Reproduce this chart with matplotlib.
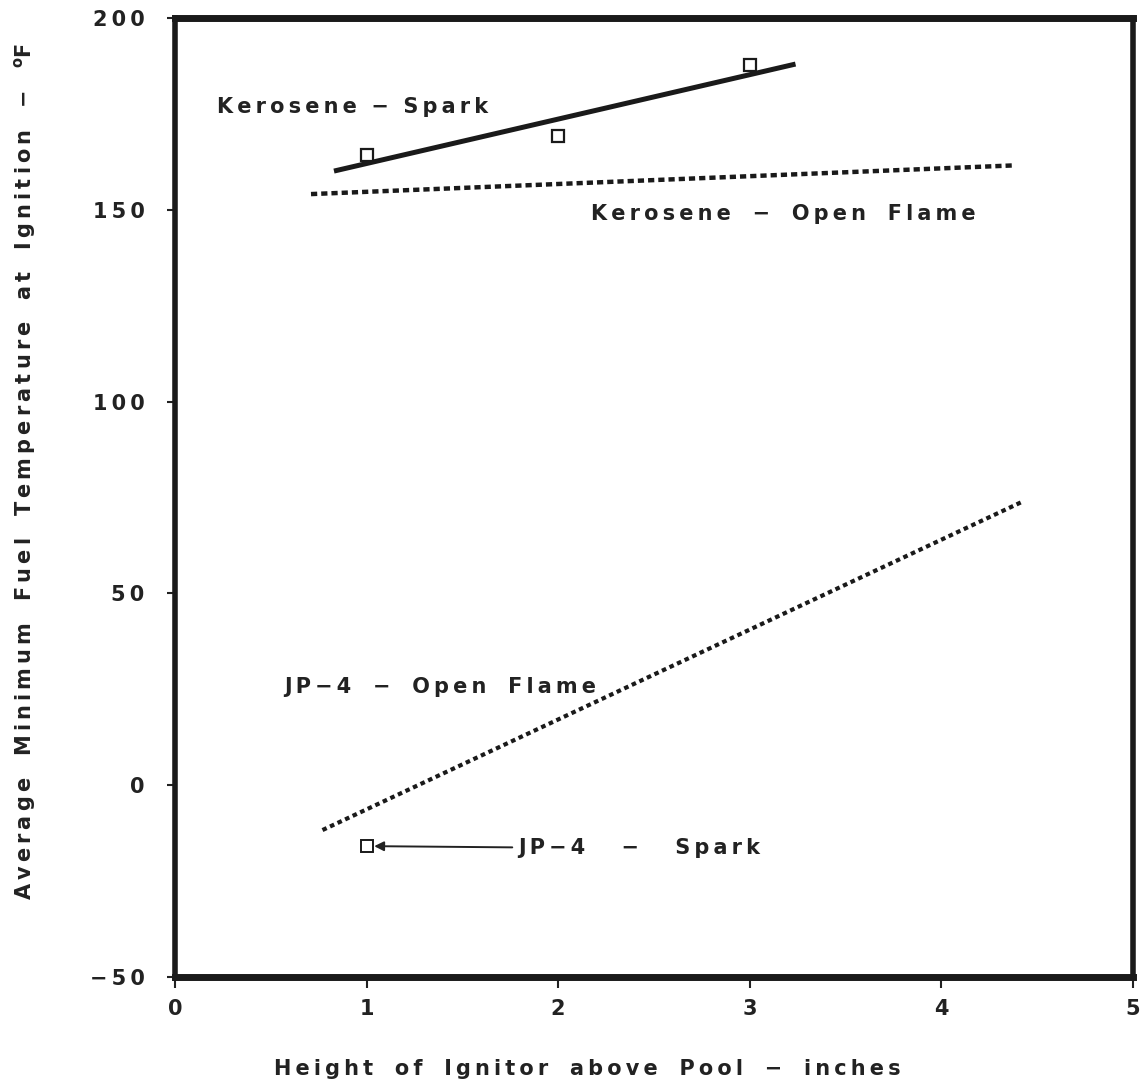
import matplotlib
matplotlib.use("Agg")
import matplotlib.pyplot as plt

# Measured points (spark ignition)
kero_spark_x = [1, 2, 3]
kero_spark_y = [164.2, 169.2, 187.7]
jp4_spark_x = [1]
jp4_spark_y = [-15.9]

# Fitted trend lines (end points)
kero_spark_line_x = [0.83, 3.24]
kero_spark_line_y = [160.1, 188.0]
kero_flame_line_x = [0.71, 4.39]
kero_flame_line_y = [154.1, 161.6]
jp4_flame_line_x = [0.77, 4.42]
jp4_flame_line_y = [-11.7, 73.8]

x_ticks = [0, 1, 2, 3, 4, 5]
y_ticks = [-50, 0, 50, 100, 150, 200]

plt.rcParams['font.family'] = ['DejaVu Sans']
plt.rcParams['font.weight'] = 'bold'
plt.rcParams['axes.unicode_minus'] = True

THIN = '\u2009'
MINUS = '\u2212'


def spaced(text, gap=THIN, word_gap='   '):
    """Letter-spaced text: thin spaces between letters, wide gaps between words."""
    words = text.split(' ')
    return word_gap.join(gap.join(w) for w in words)


fig = plt.figure(figsize=(11.44, 10.86), dpi=100)
ax = fig.add_axes([0.153, 0.1004, 0.837, 0.8830])

ax.plot(kero_spark_line_x, kero_spark_line_y, color='#1a1a1a', lw=3.6,
        solid_capstyle='butt')
ax.plot(kero_flame_line_x, kero_flame_line_y, color='#1a1a1a', lw=3.2,
        linestyle=(0, (1.4, 0.9)))
ax.plot(jp4_flame_line_x, jp4_flame_line_y, color='#1a1a1a', lw=3.0,
        linestyle=(0, (1.1, 0.9)))

ax.plot(kero_spark_x, kero_spark_y, linestyle='none', marker='s', ms=8,
        mfc='white', mec='#1a1a1a', mew=1.6, zorder=5)
ax.plot(jp4_spark_x, jp4_spark_y, linestyle='none', marker='s', ms=8,
        mfc='white', mec='#1a1a1a', mew=1.4, zorder=5)

lbl = dict(fontsize=15, fontweight='bold', color='#222222', va='center')
ax.text(0.22, 176.7, spaced(f'Kerosene {MINUS} Spark', word_gap='  '),
        ha='left', **lbl)
ax.text(2.17, 148.9, spaced(f'Kerosene {MINUS} Open Flame', word_gap='   '),
        ha='left', **lbl)
ax.text(0.57, 25.5, spaced(f'JP{MINUS}4 {MINUS} Open Flame', word_gap='   '),
        ha='left', **lbl)
ax.annotate(spaced(f'JP{MINUS}4 {MINUS} Spark', word_gap='     '),
            xy=(1.04, -15.9), xytext=(1.79, -16.5),
            ha='left', va='center', fontsize=15, fontweight='bold',
            color='#222222',
            arrowprops=dict(arrowstyle='-|>', color='#222222', lw=1.4,
                            mutation_scale=14, shrinkA=2, shrinkB=0))

ax.set_xlim(0, 5)
ax.set_ylim(-50, 200)
ax.set_xticks(x_ticks)
ax.set_yticks(y_ticks)
ax.set_xticklabels([str(v) for v in x_ticks], fontsize=15, fontweight='bold')
ax.set_yticklabels([spaced(str(v).replace('-', MINUS)) for v in y_ticks],
                   fontsize=15, fontweight='bold')
ax.tick_params(axis='x', direction='out', length=8, width=1.5, pad=8,
               colors='#222222')
ax.tick_params(axis='y', direction='out', length=6, width=1.5, pad=16,
               colors='#222222')

for side, w in [('top', 5), ('bottom', 5), ('left', 4), ('right', 4)]:
    ax.spines[side].set_linewidth(w)
    ax.spines[side].set_color('#1a1a1a')

ax.set_xlabel(spaced(f'Height of Ignitor above Pool {MINUS} inches'),
              fontsize=15, fontweight='bold', color='#222222', va='top')
ax.xaxis.set_label_coords(0.431, -0.086)
ax.set_ylabel(spaced(f'Average Minimum Fuel Temperature at Ignition {MINUS}',
                     word_gap='   ')
              + '   $^{\\mathbf{o}}\\mathbf{F}$',
              fontsize=15, fontweight='bold', color='#222222')
ax.yaxis.set_label_coords(-0.143, 0.527)

fig.savefig('out.png', dpi=100, facecolor='white')
